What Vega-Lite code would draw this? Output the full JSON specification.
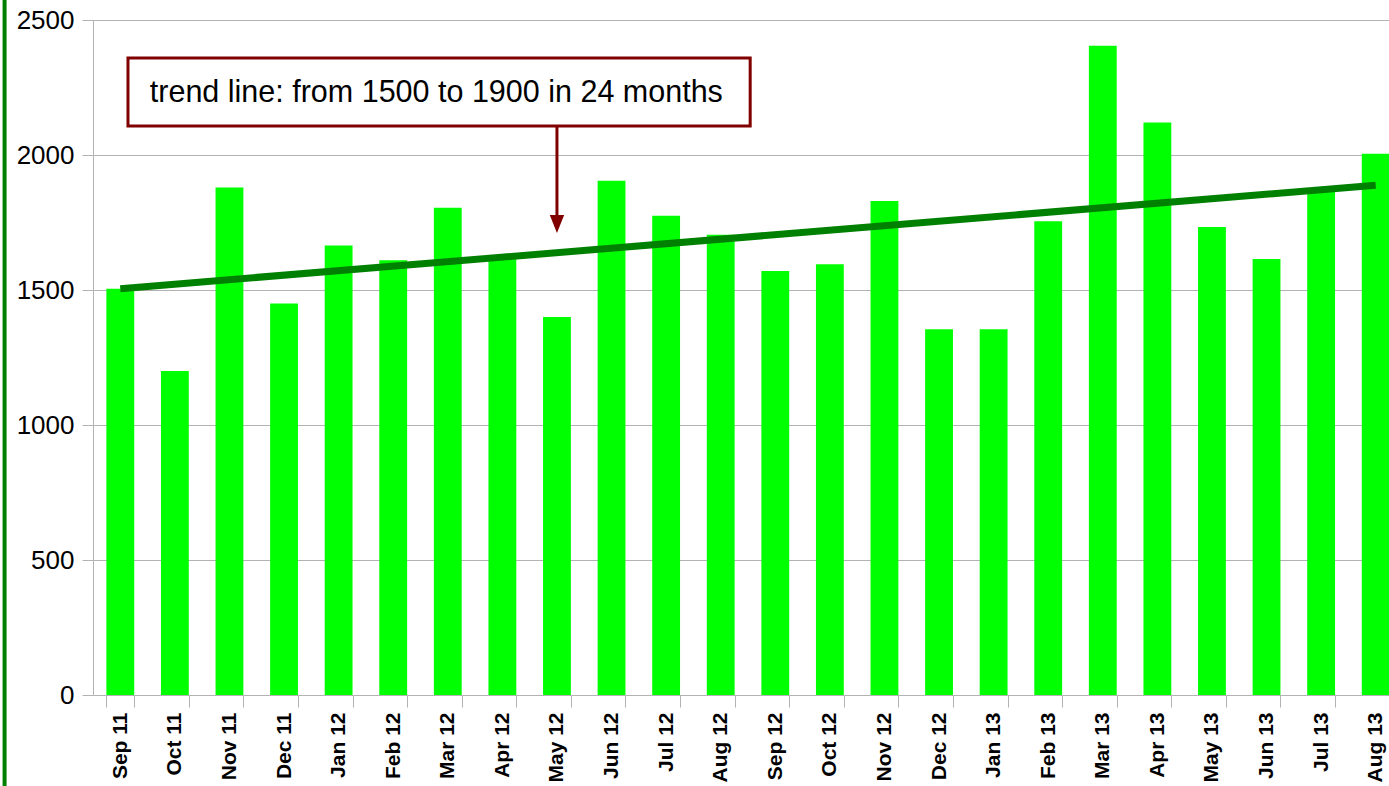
{
  "$schema": "https://vega.github.io/schema/vega-lite/v6.json",
  "width": 1310,
  "height": 675,
  "autosize": "none",
  "padding": {"left": 93, "top": 20, "right": 0, "bottom": 91},
  "background": "white",
  "config": {"view": {"stroke": null}, "font": "Liberation Sans"},
  "datasets": {
    "sales": [
      {"month": "Sep 11", "value": 1505},
      {"month": "Oct 11", "value": 1200},
      {"month": "Nov 11", "value": 1880},
      {"month": "Dec 11", "value": 1450},
      {"month": "Jan 12", "value": 1665},
      {"month": "Feb 12", "value": 1610},
      {"month": "Mar 12", "value": 1805},
      {"month": "Apr 12", "value": 1625},
      {"month": "May 12", "value": 1400},
      {"month": "Jun 12", "value": 1905},
      {"month": "Jul 12", "value": 1775},
      {"month": "Aug 12", "value": 1705},
      {"month": "Sep 12", "value": 1570},
      {"month": "Oct 12", "value": 1595},
      {"month": "Nov 12", "value": 1830},
      {"month": "Dec 12", "value": 1355},
      {"month": "Jan 13", "value": 1355},
      {"month": "Feb 13", "value": 1755},
      {"month": "Mar 13", "value": 2405},
      {"month": "Apr 13", "value": 2120},
      {"month": "May 13", "value": 1733},
      {"month": "Jun 13", "value": 1615},
      {"month": "Jul 13", "value": 1865},
      {"month": "Aug 13", "value": 2005}
    ],
    "trend": [
      {"month": "Sep 11", "value": 1505},
      {"month": "Aug 13", "value": 1888}
    ]
  },
  "layer": [
    {
      "layer": [
        {
          "data": {"name": "sales"},
          "mark": {"type": "bar", "color": "#00ff00"},
          "encoding": {
            "x": {
              "field": "month",
              "type": "nominal",
              "sort": null,
              "scale": {
                "domain": ["Sep 11","Oct 11","Nov 11","Dec 11","Jan 12","Feb 12","Mar 12","Apr 12","May 12","Jun 12","Jul 12","Aug 12","Sep 12","Oct 12","Nov 12","Dec 12","Jan 13","Feb 13","Mar 13","Apr 13","May 13","Jun 13","Jul 13","Aug 13"],
                "paddingInner": 0.49,
                "paddingOuter": 0.245
              },
              "axis": {
                "title": null,
                "labelAngle": -90,
                "labelAlign": "right",
                "labelBaseline": "middle",
                "labelFont": "Liberation Sans",
                "labelFontSize": 21,
                "labelFontWeight": "bold",
                "labelColor": "black",
                "tickBand": "extent",
                "tickSize": 12,
                "tickColor": "#b3b3b3",
                "domainColor": "#b3b3b3",
                "labelPadding": 5,
                "grid": false
              }
            },
            "y": {
              "field": "value",
              "type": "quantitative",
              "scale": {"domain": [0, 2500], "nice": false},
              "axis": {
                "title": null,
                "values": [0, 500, 1000, 1500, 2000, 2500],
                "format": "d",
                "labelFont": "Liberation Sans",
                "labelFontSize": 26,
                "labelColor": "black",
                "tickSize": 11,
                "tickColor": "#b3b3b3",
                "domainColor": "#b3b3b3",
                "gridColor": "#b3b3b3",
                "grid": true,
                "labelPadding": 8
              }
            }
          }
        },
        {
          "data": {"name": "trend"},
          "mark": {"type": "line", "color": "#008000", "strokeWidth": 7},
          "encoding": {
            "x": {"field": "month", "type": "nominal", "sort": null},
            "y": {"field": "value", "type": "quantitative"}
          }
        }
      ]
    },
    {
      "layer": [
        {
          "data": {"values": [{}]},
          "mark": {"type": "rule", "color": "#008000", "strokeWidth": 4},
          "encoding": {
            "x": {"datum": -1.62, "type": "quantitative", "scale": {"domain": [0, 24], "nice": false, "zero": false}, "axis": null},
            "y": {"datum": 2600, "type": "quantitative"},
            "y2": {"datum": -340}
          }
        },
        {
          "data": {"values": [{}]},
          "mark": {"type": "rect", "fill": "white", "stroke": "#800000", "strokeWidth": 3},
          "encoding": {
            "x": {"datum": 0.641, "type": "quantitative", "scale": {"domain": [0, 24], "nice": false, "zero": false}, "axis": null},
            "x2": {"datum": 12.04},
            "y": {"datum": 2107, "type": "quantitative"},
            "y2": {"datum": 2359}
          }
        },
        {
          "data": {"values": [{}]},
          "mark": {"type": "text", "text": "trend line: from 1500 to 1900 in 24 months", "font": "Liberation Sans", "fontSize": 30.5, "color": "black", "align": "center", "baseline": "middle"},
          "encoding": {
            "x": {"datum": 6.29, "type": "quantitative", "scale": {"domain": [0, 24], "nice": false, "zero": false}, "axis": null},
            "y": {"datum": 2230, "type": "quantitative"}
          }
        },
        {
          "data": {"values": [{}]},
          "mark": {"type": "rule", "color": "#800000", "strokeWidth": 3},
          "encoding": {
            "x": {"datum": 8.5, "type": "quantitative", "scale": {"domain": [0, 24], "nice": false, "zero": false}, "axis": null},
            "y": {"datum": 2107, "type": "quantitative"},
            "y2": {"datum": 1760}
          }
        },
        {
          "data": {"values": [{}]},
          "mark": {"type": "point", "shape": "M-0.8,-1L0.8,-1L0,1Z", "size": 324, "filled": true, "fill": "#800000", "strokeWidth": 0, "opacity": 1},
          "encoding": {
            "x": {"datum": 8.5, "type": "quantitative", "scale": {"domain": [0, 24], "nice": false, "zero": false}, "axis": null},
            "y": {"datum": 1744, "type": "quantitative"}
          }
        }
      ]
    }
  ],
  "resolve": {"scale": {"x": "independent"}}
}
